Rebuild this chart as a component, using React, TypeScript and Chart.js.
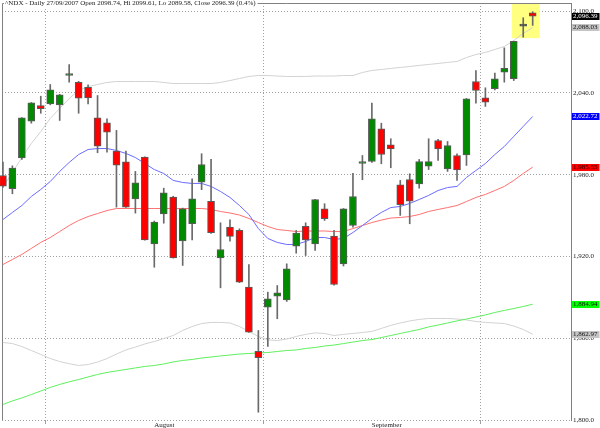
import React, { useEffect, useRef } from 'react';
import { Chart, registerables } from 'chart.js';

Chart.register(...registerables);

const TITLE = '^NDX - Daily 27/09/2007 Open 2098.74, Hi 2099.61, Lo 2089.58, Close 2096.39 (0.4%)';

const dates = [
  '2007-07-10', '2007-07-11', '2007-07-12', '2007-07-13', '2007-07-16', '2007-07-17', '2007-07-18', '2007-07-19',
  '2007-07-20', '2007-07-23', '2007-07-24', '2007-07-25', '2007-07-26', '2007-07-27', '2007-07-30', '2007-07-31',
  '2007-08-01', '2007-08-02', '2007-08-03', '2007-08-06', '2007-08-07', '2007-08-08', '2007-08-09', '2007-08-10',
  '2007-08-13', '2007-08-14', '2007-08-15', '2007-08-16', '2007-08-17', '2007-08-20', '2007-08-21', '2007-08-22',
  '2007-08-23', '2007-08-24', '2007-08-27', '2007-08-28', '2007-08-29', '2007-08-30', '2007-08-31',
  '2007-09-04', '2007-09-05', '2007-09-06', '2007-09-07', '2007-09-10', '2007-09-11', '2007-09-12', '2007-09-13',
  '2007-09-14', '2007-09-17', '2007-09-18', '2007-09-19', '2007-09-20', '2007-09-21', '2007-09-24', '2007-09-25',
  '2007-09-26', '2007-09-27',
];

const monthNames: Record<string, string> = { '07': 'July', '08': 'August', '09': 'September' };

const opens = [
  1979.4, 1969.7, 1992.4, 2019.3, 2030.8, 2032.0, 2031.3, 2052.8, 2047.7, 2044.2,
  2021.8, 2018.1, 1997.3, 1989.5, 1962.3, 1992.9, 1929.3, 1951.3, 1963.5, 1931.5,
  1944.0, 1974.5, 1960.4, 1919.0, 1941.5, 1939.1, 1897.5, 1850.3, 1882.8, 1890.9,
  1888.2, 1927.5, 1942.2, 1929.3, 1955.0, 1934.9, 1914.6, 1942.7, 1988.2, 1989.7,
  2013.7, 2002.0, 1972.6, 1976.5, 1973.3, 1986.3, 2005.1, 1984.3, 1994.1, 1994.6,
  2048.4, 2036.5, 2043.1, 2055.2, 2050.4, 2089.0, 2098.74,
];
const highs = [
  1989.2, 1986.5, 2022.0, 2033.0, 2037.6, 2046.2, 2039.0, 2060.9, 2048.5, 2046.0,
  2038.1, 2021.0, 2012.5, 1997.3, 1982.4, 1993.2, 1946.0, 1970.1, 1964.2, 1955.5,
  1977.0, 1995.4, 1991.2, 1944.7, 1946.9, 1940.3, 1914.1, 1865.7, 1893.8, 1898.7,
  1914.6, 1939.1, 1944.7, 1962.0, 1958.7, 1939.1, 1955.2, 1981.1, 1994.1, 2032.5,
  2017.8, 2006.4, 1975.8, 1980.7, 1991.2, 2006.4, 2005.9, 2004.4, 1995.4, 2035.9,
  2056.5, 2043.8, 2054.5, 2073.1, 2078.0, 2095.2, 2099.61,
];
const lows = [
  1970.6, 1966.0, 1991.2, 2017.8, 2025.1, 2031.3, 2019.8, 2047.9, 2025.1, 2032.0,
  1996.1, 1996.5, 1956.2, 1956.0, 1951.8, 1932.0, 1912.1, 1944.4, 1918.8, 1913.4,
  1932.2, 1969.0, 1937.0, 1897.0, 1931.2, 1900.8, 1864.2, 1805.7, 1854.0, 1874.3,
  1887.0, 1922.4, 1920.7, 1924.4, 1946.4, 1899.0, 1913.0, 1941.5, 1976.3, 1989.0,
  1988.0, 1985.1, 1950.1, 1944.0, 1970.1, 1983.8, 1990.4, 1982.4, 1975.8, 1986.8,
  2032.5, 2030.1, 2042.3, 2047.9, 2049.1, 2080.9, 2089.58,
];
const closes = [
  1971.6, 1984.8, 2021.8, 2032.8, 2028.4, 2042.3, 2038.7, 2053.8, 2036.2, 2036.4,
  2000.9, 2011.2, 1987.0, 1956.2, 1974.1, 1932.2, 1945.2, 1966.7, 1919.0, 1955.0,
  1962.3, 1987.5, 1937.4, 1925.1, 1934.7, 1901.1, 1864.4, 1845.7, 1889.0, 1893.4,
  1911.0, 1937.1, 1932.2, 1961.8, 1947.7, 1899.4, 1955.0, 1964.0, 1989.2, 2021.0,
  1994.8, 1999.0, 1958.1, 1960.6, 1989.7, 1989.7, 1999.0, 2001.4, 1983.6, 2035.7,
  2041.8, 2033.2, 2050.4, 2058.0, 2077.8, 2089.0, 2096.39,
];

// blue moving average
const maFast = [
  1947.1, 1952.3, 1957.4, 1964.0, 1969.2, 1975.0, 1982.4, 1989.0, 1994.8, 1998.5,
  1999.2, 1999.2, 1997.8, 1995.6, 1992.6, 1988.2, 1983.8, 1980.9, 1975.8, 1974.3,
  1973.6, 1973.6, 1971.4, 1967.7, 1963.3, 1957.4, 1950.8, 1940.5, 1933.2, 1930.3,
  1928.8, 1928.8, 1931.0, 1933.9, 1933.9, 1932.5, 1933.2, 1937.6, 1942.7, 1947.9,
  1952.3, 1955.9, 1956.7, 1958.9, 1961.8, 1964.8, 1968.4, 1970.6, 1971.4, 1978.0,
  1983.1, 1988.2, 1994.8, 2000.7, 2008.1, 2015.4, 2022.72,
];
// red moving average
const maMid = [
  1914.1, 1917.8, 1921.5, 1925.9, 1930.3, 1933.9, 1938.3, 1942.7, 1946.4, 1949.3,
  1951.5, 1953.7, 1955.2, 1955.2, 1955.2, 1955.2, 1955.2, 1955.2, 1955.2, 1955.2,
  1955.2, 1955.2, 1954.5, 1953.0, 1951.9, 1950.4, 1947.9, 1944.9, 1942.0, 1939.8,
  1939.1, 1938.3, 1938.7, 1938.7, 1938.7, 1938.3, 1938.3, 1940.5, 1942.7, 1944.9,
  1946.7, 1948.2, 1948.6, 1949.3, 1950.8, 1953.0, 1954.5, 1955.9, 1957.4, 1960.3,
  1963.3, 1965.5, 1968.4, 1971.4, 1975.8, 1980.9, 1985.55,
];
// green moving average
const maSlow = [
  1811.4, 1814.0, 1816.2, 1818.7, 1821.3, 1823.9, 1826.1, 1828.0, 1829.7, 1831.6,
  1833.4, 1834.9, 1836.0, 1837.1, 1838.2, 1839.3, 1840.0, 1841.1, 1842.6, 1843.7,
  1844.4, 1845.5, 1846.2, 1847.0, 1847.7, 1848.4, 1848.8, 1849.2, 1849.5, 1850.3,
  1851.0, 1851.4, 1852.5, 1853.2, 1854.3, 1855.0, 1856.1, 1857.2, 1858.3, 1859.0,
  1860.5, 1862.0, 1863.5, 1865.0, 1866.4, 1868.3, 1869.7, 1871.2, 1872.7, 1874.1,
  1875.6, 1877.1, 1878.9, 1880.4, 1881.8, 1883.3, 1884.94,
];
// grey bands
const bandUpper = [
  1971.0, 1981.6, 1992.6, 2002.9, 2011.7, 2021.3, 2028.6, 2035.9, 2041.8, 2044.7,
  2046.2, 2047.7, 2048.4, 2048.4, 2048.4, 2048.4, 2048.4, 2047.7, 2046.9, 2046.9,
  2046.9, 2046.9, 2046.9, 2047.7, 2049.1, 2050.6, 2052.1, 2052.8, 2052.8, 2052.4,
  2052.1, 2052.1, 2052.1, 2052.4, 2052.4, 2052.4, 2052.8, 2052.8, 2055.0, 2056.5,
  2057.2, 2058.0, 2058.7, 2059.4, 2060.2, 2060.9, 2061.6, 2062.4, 2063.1, 2066.0,
  2068.2, 2069.7, 2071.9, 2074.1, 2078.5, 2083.6, 2088.03,
];
const bandLower = [
  1856.9, 1856.1, 1853.9, 1851.0, 1848.1, 1845.1, 1842.9, 1841.3, 1840.0, 1840.7,
  1842.5, 1845.1, 1848.4, 1851.4, 1853.5, 1855.8, 1857.6, 1859.8, 1862.0, 1865.7,
  1868.6, 1870.8, 1871.6, 1871.6, 1871.2, 1868.6, 1865.0, 1861.3, 1858.8, 1858.3,
  1859.4, 1861.3, 1862.8, 1863.9, 1863.5, 1862.0, 1862.8, 1863.5, 1864.2, 1865.0,
  1867.2, 1869.4, 1871.2, 1872.7, 1873.8, 1874.5, 1874.5, 1874.5, 1874.1, 1873.4,
  1872.3, 1871.6, 1871.2, 1870.8, 1869.0, 1866.4, 1862.97,
];

const yTicks = [1800, 1860, 1920, 1980, 2040, 2100];
const highlightX = [53.8, 56.75];
const highlightY = [2080.2, 2105.2];

const FONT = "'Liberation Serif', 'Times New Roman', serif";
const GREEN = '#008a00';
const RED = '#ff0000';
const DOJI = '#333333';

const fmt = (v: number, d: number) =>
  v.toLocaleString('en-US', { minimumFractionDigits: d, maximumFractionDigits: d });

export default function App() {
  const ref = useRef<HTMLCanvasElement>(null);

  useEffect(() => {
    document.body.style.margin = '0';
    Chart.defaults.font.family = FONT;
    Chart.defaults.font.size = 7;

    const idx = dates.map((_, i) => i);
    const monthTicks = idx.filter((i) => i > 0 && dates[i].slice(5, 7) !== dates[i - 1].slice(5, 7));
    const monthLabel = (v: number) => monthNames[dates[Math.round(v)].slice(5, 7)];
    const bodyColors = idx.map((i) => (closes[i] > opens[i] ? GREEN : closes[i] < opens[i] ? RED : DOJI));
    const series = (arr: (number | null)[]) =>
      arr.map((v, i) => (v == null ? null : { x: i, y: v })).filter((p) => p !== null);
    const last = (arr: number[]) => arr[arr.length - 1];

    const valueLabels = [
      { value: last(closes), bg: '#000000', fg: '#ffffff' },
      { value: last(bandUpper), bg: '#c4c4c4', fg: '#111111' },
      { value: last(maFast), bg: '#0000ff', fg: '#ffffff' },
      { value: last(maMid), bg: '#ff0000', fg: '#220000' },
      { value: last(maSlow), bg: '#00ff00', fg: '#111111' },
      { value: last(bandLower), bg: '#c4c4c4', fg: '#111111' },
    ];

    const overlay = {
      id: 'overlay',
      beforeDatasetsDraw(chart: any) {
        const { ctx, chartArea: a, scales } = chart;
        const x = scales.x;
        const y = scales.y;
        ctx.save();
        const hx1 = x.getPixelForValue(highlightX[0]);
        const hx2 = x.getPixelForValue(highlightX[1]);
        const hy1 = y.getPixelForValue(highlightY[1]);
        const hy2 = y.getPixelForValue(highlightY[0]);
        ctx.fillStyle = '#ffff80';
        ctx.fillRect(hx1, hy1, hx2 - hx1, hy2 - hy1);
        ctx.strokeStyle = '#808080';
        ctx.lineWidth = 1;
        ctx.beginPath();
        ctx.moveTo(Math.round(a.left) + 0.5, a.bottom);
        ctx.lineTo(Math.round(a.left) + 0.5, Math.round(a.top) + 0.5);
        ctx.lineTo(a.right, Math.round(a.top) + 0.5);
        ctx.stroke();
        ctx.restore();
      },
      afterDraw(chart: any) {
        const { ctx, chartArea: a, scales } = chart;
        const y = scales.y;
        ctx.save();
        ctx.font = `7px ${FONT}`;
        ctx.textBaseline = 'middle';
        ctx.textAlign = 'left';
        // title over the frame
        const tw = ctx.measureText(TITLE).width;
        ctx.fillStyle = '#ffffff';
        ctx.fillRect(4, 0, tw + 3, 7);
        ctx.fillStyle = '#222222';
        ctx.fillText(TITLE, 5, 3.5);
        // last-value labels
        valueLabels.forEach((l) => {
          const py = y.getPixelForValue(l.value);
          const txt = fmt(l.value, 2);
          const w = ctx.measureText(txt).width;
          ctx.fillStyle = l.bg;
          ctx.fillRect(a.right + 1, Math.round(py - 3.5), w + 3, 7);
          ctx.fillStyle = l.fg;
          ctx.fillText(txt, a.right + 2, py);
        });
        ctx.restore();
      },
    };

    const lineDs = (label: string, arr: (number | null)[], color: string, order: number) => ({
      type: 'line' as const,
      label,
      data: series(arr),
      borderColor: color,
      borderWidth: 1,
      pointRadius: 0,
      tension: 0,
      fill: false,
      order,
    });

    const chart = new Chart(ref.current as HTMLCanvasElement, {
      type: 'bar',
      data: {
        datasets: [
          {
            type: 'bar',
            label: 'body',
            data: idx.map((i) => ({ x: i, y: [opens[i], closes[i]] })) as any,
            backgroundColor: bodyColors,
            borderColor: '#5a5a5a',
            borderWidth: 1,
            borderSkipped: false,
            grouped: false,
            barPercentage: 1,
            categoryPercentage: 1,
            maxBarThickness: 7,
            minBarLength: 2,
            order: 0,
            clip: false as any,
          },
          {
            type: 'bar',
            label: 'wick',
            data: idx.map((i) => ({ x: i, y: [lows[i], highs[i]] })) as any,
            backgroundColor: '#6a6a6a',
            borderWidth: 0,
            grouped: false,
            barPercentage: 1,
            categoryPercentage: 1,
            maxBarThickness: 1,
            order: 1,
            clip: false as any,
          },
          lineDs('fast', maFast, '#6b6bff', 2),
          lineDs('mid', maMid, '#ff7070', 3),
          lineDs('slow', maSlow, '#5ef05e', 4),
          lineDs('upper', bandUpper, '#d2d2d2', 5),
          lineDs('lower', bandLower, '#d2d2d2', 6),
        ] as any,
      },
      options: {
        animation: false,
        responsive: false,
        devicePixelRatio: 1,
        layout: { padding: { left: 2, top: 3, right: 0, bottom: 0 } },
        plugins: {
          legend: { display: false },
          tooltip: { enabled: false },
        },
        scales: {
          x: {
            type: 'linear',
            min: -0.1,
            max: 60.05,
            offset: false,
            afterBuildTicks: (s: any) => {
              s.ticks = monthTicks.map((v) => ({ value: v }));
            },
            afterFit: (s: any) => {
              s.height = 8;
              s.paddingLeft = 0;
              s.paddingRight = 0;
            },
            grid: { color: '#a0a0a0', lineWidth: 1, drawTicks: true, tickLength: 4 },
            border: { display: false, dash: [1, 2] },
            ticks: {
              callback: (v: any) => monthLabel(Number(v)),
              align: 'start',
              padding: -3,
              maxRotation: 0,
              autoSkip: false,
              color: '#222222',
              font: { family: FONT, size: 7 },
            },
          },
          y: {
            type: 'linear',
            position: 'right',
            min: 1800,
            max: 2106,
            afterBuildTicks: (s: any) => {
              s.ticks = yTicks.map((v) => ({ value: v }));
            },
            afterFit: (s: any) => {
              s.width = 29;
              s.paddingTop = 0;
              s.paddingBottom = 0;
            },
            grid: { color: '#a0a0a0', lineWidth: 1, drawTicks: false },
            border: { display: true, color: '#808080', width: 1, dash: [1, 2] },
            ticks: {
              callback: (v: any) => fmt(Number(v), 1),
              padding: 2,
              color: '#222222',
              font: { family: FONT, size: 7 },
            },
          },
        } as any,
      },
      plugins: [overlay],
    });

    return () => chart.destroy();
  }, []);

  return (
    <canvas
      ref={ref}
      width={600}
      height={428}
      style={{ display: 'block', position: 'absolute', left: 0, top: 0, width: 600, height: 428 }}
    />
  );
}
